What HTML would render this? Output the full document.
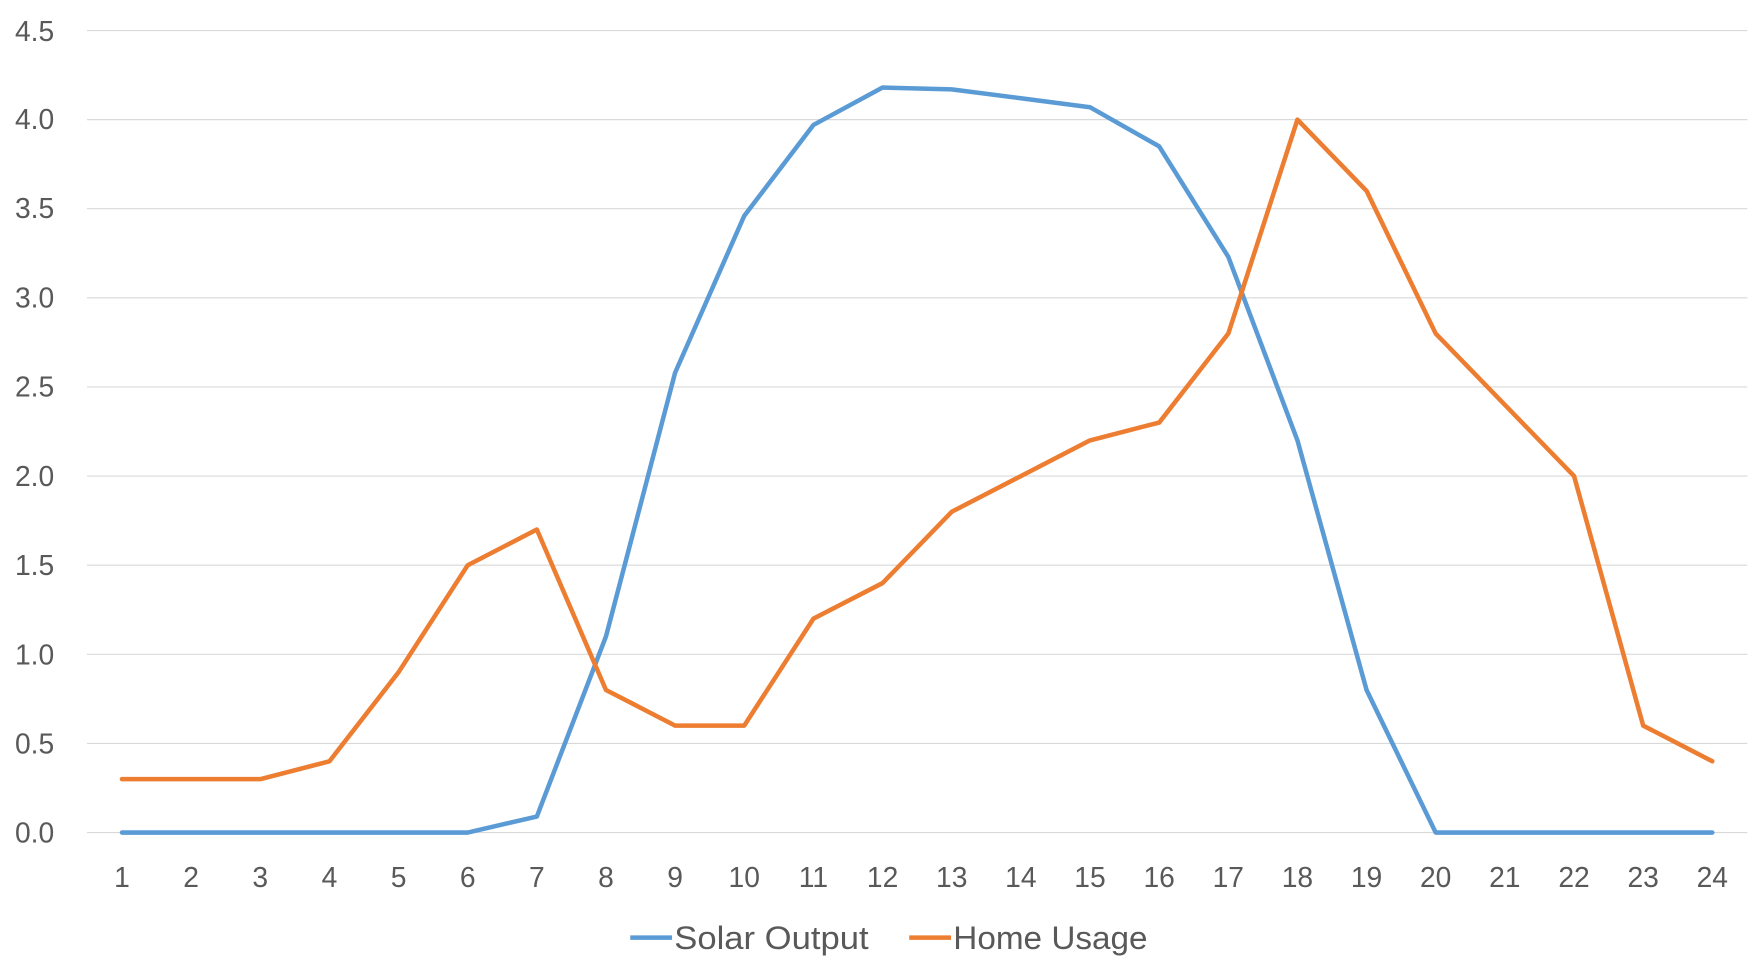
<!DOCTYPE html><html><head><style>html,body{margin:0;padding:0;background:#fff}svg{display:block}text{font-family:"Liberation Sans",sans-serif;fill:#595959}</style></head><body>
<svg width="1762" height="975" viewBox="0 0 1560 863" xmlns="http://www.w3.org/2000/svg">
<g stroke="#d9d9d9" stroke-width="1">
<line x1="77" x2="1547" y1="737" y2="737"/><line x1="77" x2="1547" y1="658.1" y2="658.1"/><line x1="77" x2="1547" y1="579.2" y2="579.2"/><line x1="77" x2="1547" y1="500.3" y2="500.3"/><line x1="77" x2="1547" y1="421.4" y2="421.4"/><line x1="77" x2="1547" y1="342.5" y2="342.5"/><line x1="77" x2="1547" y1="263.6" y2="263.6"/><line x1="77" x2="1547" y1="184.7" y2="184.7"/><line x1="77" x2="1547" y1="105.8" y2="105.8"/><line x1="77" x2="1547" y1="27" y2="27"/>
</g>
<g font-size="25" text-anchor="end">
<text x="48" y="746">0.0</text><text x="48" y="667">0.5</text><text x="48" y="588">1.0</text><text x="48" y="509">1.5</text><text x="48" y="430">2.0</text><text x="48" y="351">2.5</text><text x="48" y="272">3.0</text><text x="48" y="193">3.5</text><text x="48" y="114">4.0</text><text x="48" y="36">4.5</text>
</g>
<g font-size="25" text-anchor="middle">
<text x="108" y="785">1</text><text x="169.2" y="785">2</text><text x="230.4" y="785">3</text><text x="291.7" y="785">4</text><text x="352.9" y="785">5</text><text x="414.1" y="785">6</text><text x="475.3" y="785">7</text><text x="536.5" y="785">8</text><text x="597.7" y="785">9</text><text x="658.9" y="785">10</text><text x="720.2" y="785">11</text><text x="781.4" y="785">12</text><text x="842.6" y="785">13</text><text x="903.8" y="785">14</text><text x="965" y="785">15</text><text x="1026.3" y="785">16</text><text x="1087.5" y="785">17</text><text x="1148.7" y="785">18</text><text x="1209.9" y="785">19</text><text x="1271.1" y="785">20</text><text x="1332.3" y="785">21</text><text x="1393.6" y="785">22</text><text x="1454.8" y="785">23</text><text x="1516" y="785">24</text>
</g>
<polyline fill="none" stroke="#5b9bd5" stroke-width="4" stroke-linejoin="round" stroke-linecap="round" points="108,737 169.2,737 230.4,737 291.7,737 352.9,737 414.1,737 475.3,722.8 536.5,563.4 597.7,329.9 658.9,191 720.2,110.5 781.4,77.4 842.6,79 903.8,86.9 965,94.8 1026.3,129.5 1087.5,227.3 1148.7,389.8 1209.9,610.8 1271.1,737 1332.3,737 1393.6,737 1454.8,737 1516,737"/>
<polyline fill="none" stroke="#ed7d31" stroke-width="4" stroke-linejoin="round" stroke-linecap="round" points="108,689.7 169.2,689.7 230.4,689.7 291.7,673.9 352.9,595 414.1,500.3 475.3,468.7 536.5,610.8 597.7,642.3 658.9,642.3 720.2,547.6 781.4,516.1 842.6,453 903.8,421.4 965,389.8 1026.3,374 1087.5,295.2 1148.7,105.8 1209.9,168.9 1271.1,295.2 1332.3,358.3 1393.6,421.4 1454.8,642.3 1516,673.9"/>
<line x1="558" x2="595" y1="830" y2="830" stroke="#5b9bd5" stroke-width="4"/>
<text x="597" y="840" font-size="29" textLength="172" lengthAdjust="spacingAndGlyphs">Solar Output</text>
<line x1="805" x2="842" y1="830" y2="830" stroke="#ed7d31" stroke-width="4"/>
<text x="844" y="840" font-size="29" textLength="172" lengthAdjust="spacingAndGlyphs">Home Usage</text>
</svg></body></html>
